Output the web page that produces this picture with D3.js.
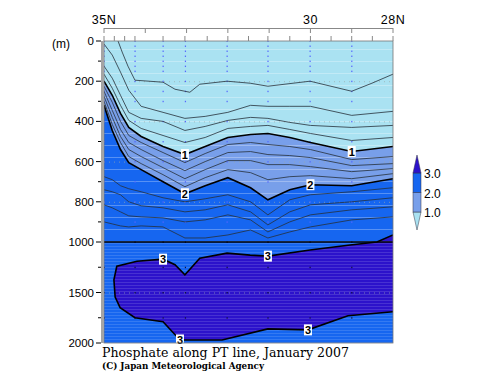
<!DOCTYPE html>
<html lang="en">
<head>
<meta charset="UTF-8">
<title>Phosphate along PT line, January 2007</title>
<script src="https://d3js.org/d3.v7.min.js"></script>
<style>
  body { margin: 0; background: #fff; }
  svg { display: block; font-family: "Liberation Sans", Arial, sans-serif; }
  .thin { fill: none; stroke: #26303a; stroke-width: 0.8px; }
  .thick { fill: none; stroke: #000; stroke-width: 1.6px; }
  .tick { stroke: #888; stroke-width: 1px; }
</style>
</head>
<body>
<svg width="500" height="387"></svg>
<script>
// latitude columns used for the contour depths (degrees N)
const lats = [35.0, 34.8, 34.6, 34.4, 34.1, 33.57, 33.04, 32.55, 32.0, 31.45, 31.03, 30.5, 30.0, 29.0, 28.0];

// depth (m) of each phosphate contour at the columns above
const d04 = [15, 70, 155, 245, 325, 355, 385, 375, 355, 320, 325, 325, 325, 370, 350];
const d06 = [125, 185, 270, 355, 385, 400, 445, 425, 395, 380, 385, 405, 420, 430, 420];
const d08 = [165, 235, 320, 395, 435, 470, 505, 480, 435, 425, 420, 440, 460, 495, 480];
const d10 = [200, 270, 360, 430, 475, 525, 565, 525, 480, 465, 460, 480, 505, 550, 525];
const d12 = [225, 305, 400, 470, 505, 555, 605, 560, 515, 505, 515, 525, 540, 590, 575];
const d14 = [250, 345, 440, 505, 540, 595, 645, 600, 555, 550, 565, 570, 580, 620, 610];
const d16 = [275, 380, 475, 540, 575, 630, 685, 640, 595, 595, 615, 615, 625, 650, 635];
const d18 = [300, 415, 505, 575, 610, 665, 725, 680, 640, 655, 690, 675, 670, 685, 660];
const d20 = [320, 445, 540, 605, 640, 700, 760, 720, 680, 730, 790, 740, 715, 720, 685];
const d22 = [675, 690, 720, 735, 750, 780, 800, 785, 765, 800, 865, 790, 765, 750, 730];
const d24 = [740, 750, 765, 800, 820, 830, 850, 840, 815, 850, 915, 850, 815, 800, 780];
const d26 = [815, 830, 850, 870, 875, 880, 900, 890, 865, 890, 950, 900, 865, 840, 825];
const d28 = [900, 910, 920, 925, 920, 925, 980, 980, 965, 940, 980, 950, 925, 890, 875];

// 0.2 contour reaches the surface, so it has its own points [lat, depth]
const c02 = [[34.66, 0], [34.56, 55], [34.42, 125], [34.25, 195], [33.57, 205], [33.28, 240],
  [32.92, 255], [32.68, 215], [32.02, 200], [31.46, 210], [31.03, 225], [30.01, 200],
  [29.0, 250], [28.51, 210], [28.0, 165]];

// deep 3.0 contour (closed against the right edge) [lat, depth]
const c30 = [[28.0, 965], [28.39, 1000], [29.04, 1030], [30.01, 1080], [31.03, 1140], [31.46, 1130],
  [32.02, 1110], [32.68, 1160], [33.04, 1325], [33.28, 1225], [33.57, 1170], [34.2, 1190],
  [34.69, 1240], [34.76, 1375], [34.73, 1545], [34.61, 1650], [34.25, 1750], [33.57, 1790],
  [33.16, 1970], [32.14, 1970], [31.03, 1860], [30.06, 1870], [29.09, 1730], [28.0, 1690]];

// contour label positions: index into lats (levels 1, 2) or into c30 (level 3)
const labels10 = [6, 13];
const labels20 = [6, 12];
const labels30 = [10, 4, 18, 21];

// observation stations and sampled depths
const stations = [35.0, 34.25, 33.57, 33.03, 32.02, 31.03, 30.01, 29.0];
const sampleDepths = [0, 25, 50, 75, 100, 125, 150, 200, 250, 300, 400, 500, 600, 700,
  800, 900, 1000, 1250, 1500, 1750];

const latMajor = [35, 34, 33, 32, 31, 30, 29, 28];
const latMinor = [35, 34.75, 34.5, 34.25, 33.57, 33.04, 32.5, 32, 31.5, 31.03, 30.5, 30, 29.5, 29, 28.5, 28];
const latLabels = [[35, "35N"], [30, "30"], [28, "28N"]];
const depthMajor = [0, 200, 400, 600, 800, 1000, 1500, 2000];
const depthMinor = [100, 300, 500, 700, 900, 1250, 1750];

const legendLevels = [1.0, 2.0, 3.0];
const colors = ["#aae2f2", "#789fea", "#1666f0", "#2c12cb"];

const svg = d3.select("svg");
const L = 104, R = 393, T = 41, B = 343;
const x = d3.scaleLinear().domain([35, 28]).range([L, R]);
const y = d3.scaleLinear().domain([0, 1000, 2000]).range([T, 242, B]);

const defs = svg.append("defs");
defs.append("clipPath").attr("id", "plot").append("rect")
  .attr("x", L).attr("y", T).attr("width", R - L).attr("height", B - T);
const p1 = defs.append("pattern").attr("id", "stripeA").attr("patternUnits", "userSpaceOnUse")
  .attr("width", 8).attr("height", 12).attr("y", T + 8);
p1.append("rect").attr("width", 8).attr("height", 1).attr("fill", "#fff").attr("opacity", 0.28);
const p2 = defs.append("pattern").attr("id", "stripeB").attr("patternUnits", "userSpaceOnUse")
  .attr("width", 8).attr("height", 3).attr("y", 243);
p2.append("rect").attr("width", 8).attr("height", 1).attr("fill", "#fff").attr("opacity", 0.13);

const g = svg.append("g").attr("clip-path", "url(#plot)");
const line = d3.line().x(d => x(d[0])).y(d => y(d[1]));
const pts = arr => arr.map((d, i) => [lats[i], d]);

// filled bands
g.append("rect").attr("x", L).attr("y", T).attr("width", R - L).attr("height", B - T).attr("fill", colors[0]);
[[d10, colors[1]], [d20, colors[2]]].forEach(([arr, c]) => {
  g.append("path").attr("fill", c)
    .attr("d", line(pts(arr).concat([[28, 2000], [35, 2000]])) + "Z");
});
g.append("path").attr("fill", colors[3]).attr("d", line(c30) + "Z");

// texture stripes
g.append("rect").attr("x", L).attr("y", T).attr("width", R - L).attr("height", 242 - T).attr("fill", "url(#stripeA)");
g.append("rect").attr("x", L).attr("y", 242).attr("width", R - L).attr("height", B - 242).attr("fill", "url(#stripeB)");

// dotted grid rows
g.selectAll(".grid").data([200, 400, 600, 800, 1500]).join("line")
  .attr("x1", L).attr("x2", R).attr("y1", d => y(d) + 0.5).attr("y2", d => y(d) + 0.5)
  .attr("stroke", "#9aa").attr("stroke-dasharray", "1,4").attr("opacity", 0.7);

// station sample dots
stations.forEach(s => {
  g.selectAll(null).data(sampleDepths).join("rect")
    .attr("x", x(s) - 0.5).attr("y", d => y(d) - 0.5).attr("width", 1.2).attr("height", 1.4)
    .attr("fill", d => d >= 1000 ? "#101040" : "#5566ff");
});

// contour lines
g.append("path").attr("class", "thin").attr("d", line(c02));
[d04, d06, d08, d12, d14, d16, d18, d22, d24, d26, d28].forEach(arr => {
  g.append("path").attr("class", "thin").attr("d", line(pts(arr)));
});
[d10, d20].forEach(arr => g.append("path").attr("class", "thick").attr("d", line(pts(arr))));
g.append("path").attr("class", "thick").attr("d", line(c30));

// 1000 m break line
svg.append("line").attr("x1", L).attr("x2", R).attr("y1", y(1000)).attr("y2", y(1000))
  .attr("stroke", "#000").attr("stroke-width", 1.3);

// contour labels
function label(lat, depth, txt) {
  const cx = x(lat), cy = y(depth);
  svg.append("rect").attr("x", cx - 4).attr("y", cy - 5.5).attr("width", 8).attr("height", 11).attr("fill", "#fff");
  svg.append("text").attr("x", cx).attr("y", cy + 4).attr("text-anchor", "middle")
    .attr("font-size", 11).attr("font-weight", "bold").text(txt);
}
labels10.forEach(i => label(lats[i], d10[i], "1"));
labels20.forEach(i => label(lats[i], d20[i], "2"));
labels30.filter(i => i !== 4).forEach(i => label(c30[i][0], c30[i][1], "3"));
label(c30[4][0], c30[4][1], "3");

// plot frame
svg.append("rect").attr("x", L).attr("y", T).attr("width", R - L).attr("height", B - T)
  .attr("fill", "none").attr("stroke", "#777").attr("stroke-width", 0.8);
svg.append("rect").attr("x", 101).attr("y", T).attr("width", 3).attr("height", B - T).attr("fill", "#a4a4a4");

// top latitude axis
svg.append("line").attr("class", "tick").attr("x1", L).attr("x2", R).attr("y1", 28.5).attr("y2", 28.5);
svg.selectAll(".maj").data(latMajor).join("line").attr("class", "tick")
  .attr("x1", d => x(d)).attr("x2", d => x(d)).attr("y1", 28).attr("y2", 33);
svg.selectAll(".mnr").data(latMinor).join("line").attr("class", "tick")
  .attr("x1", d => x(d)).attr("x2", d => x(d)).attr("y1", 36).attr("y2", 41);
svg.selectAll(".latl").data(latLabels).join("text")
  .attr("x", d => x(d[0])).attr("y", 24).attr("text-anchor", "middle").attr("font-size", 12.5)
  .attr("letter-spacing", 0.5).text(d => d[1]);

// left depth axis
svg.selectAll(".dmaj").data(depthMajor).join("line")
  .attr("x1", 96).attr("x2", 101).attr("y1", d => y(d)).attr("y2", d => y(d))
  .attr("stroke", "#000").attr("stroke-width", 1);
svg.selectAll(".dmnr").data(depthMinor).join("line")
  .attr("x1", 98).attr("x2", 101).attr("y1", d => y(d)).attr("y2", d => y(d))
  .attr("stroke", "#000").attr("stroke-width", 1);
svg.selectAll(".dl").data(depthMajor).join("text")
  .attr("x", 94).attr("y", d => y(d) + 4).attr("text-anchor", "end").attr("font-size", 11.5)
  .text(d => d);
svg.append("text").attr("x", 52).attr("y", 48).attr("font-size", 12).text("(m)");

// legend bar
const ly = d3.scaleLinear().domain([1, 3]).range([212, 173]);
const lx0 = 413, lx1 = 421, lxm = 417;
const lg = svg.append("g").attr("stroke", "#334").attr("stroke-width", 0.5);
lg.append("path").attr("fill", colors[0])
  .attr("d", `M${lx0},${ly(1)}L${lx1},${ly(1)}L${lxm},${ly(1) + 18}Z`);
lg.append("rect").attr("x", lx0).attr("y", ly(2)).attr("width", lx1 - lx0).attr("height", ly(1) - ly(2)).attr("fill", colors[1]);
lg.append("rect").attr("x", lx0).attr("y", ly(3)).attr("width", lx1 - lx0).attr("height", ly(2) - ly(3)).attr("fill", colors[2]);
lg.append("path").attr("fill", colors[3])
  .attr("d", `M${lx0},${ly(3)}L${lx1},${ly(3)}L${lxm},${ly(3) - 18}Z`);
svg.selectAll(".legl").data(legendLevels).join("text")
  .attr("x", 424).attr("y", d => ly(d) + 5).attr("font-size", 12).text(d => d.toFixed(1));

// titles
svg.append("text").attr("x", 102).attr("y", 357).attr("font-family", "'DejaVu Serif', serif")
  .attr("font-size", 13).attr("textLength", 247).attr("lengthAdjust", "spacingAndGlyphs")
  .text("Phosphate along PT line, January 2007");
svg.append("text").attr("x", 102).attr("y", 369).attr("font-family", "'DejaVu Serif', serif")
  .attr("font-size", 9.5).attr("font-weight", "bold").attr("textLength", 162).attr("lengthAdjust", "spacingAndGlyphs")
  .text("(C) Japan Meteorological Agency");
</script>
</body>
</html>
